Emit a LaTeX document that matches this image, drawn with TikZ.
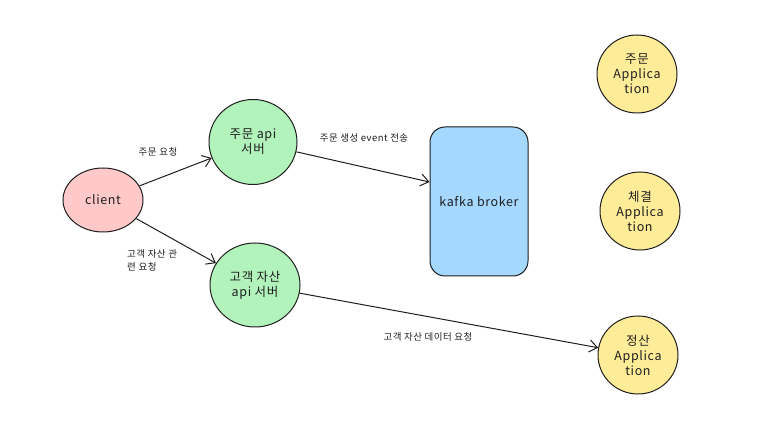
\documentclass[tikz,border=0pt]{standalone}
\usepackage{fontspec}
\setmainfont{Noto Sans CJK KR}[LetterSpace=5]
\usepackage{tikz}
\usetikzlibrary{positioning,shapes.geometric,arrows.meta}
\definecolor{clientpink}{HTML}{FFC9C9}
\definecolor{apigreen}{HTML}{B2F2BB}
\definecolor{kafkablue}{HTML}{A5D8FF}
\definecolor{appyellow}{HTML}{FFEC99}
\definecolor{edgegray}{HTML}{1E1E1E}

\begin{document}
\begin{tikzpicture}[x=1pt,y=1pt]
\tikzstyle{every node}+=[inner sep=0pt, font=\fontsize{12.5}{15}\selectfont, align=center, text=edgegray]
\tikzstyle{blob}=[ellipse, draw=edgegray, line width=1pt]
\tikzstyle{app}=[blob, fill=appyellow, minimum width=80pt, minimum height=78pt]
\tikzstyle{flow}=[draw=edgegray, line width=1pt, -{Straight Barb[length=8pt,width=12pt]}]
\tikzstyle{tag}=[font=\fontsize{9.5}{13}\selectfont, text=edgegray]
\useasboundingbox (0,0) rectangle (758,447);
\node [blob, fill=clientpink, minimum width=80pt, minimum height=64pt] (client) at (103,247) {client};
\node [blob, fill=apigreen, minimum width=88pt, minimum height=85pt] (orderapi) at (253,305) {주문 api\\서버};
\node [blob, fill=apigreen, minimum width=90pt, minimum height=84pt] (assetapi) at (255,162) {고객 자산\\api 서버};
\node [draw=edgegray, line width=1pt, rounded corners=15pt, fill=kafkablue, minimum width=98pt, minimum height=149pt] (kafka) at (479,245.5) {kafka broker};
\node [app] (orderapp) at (637,373) {주문\\Applica\\tion};
\node [app] (tradeapp) at (640,236) {체결\\Applica\\tion};
\node [app] (settleapp) at (638,92) {정산\\Applica\\tion};
\draw [flow] (client) -- (orderapi);
\draw (158,295) node [tag] {주문 요청};
\draw [flow] (client) -- (assetapi);
\draw (127,187) node [tag, anchor=west, align=left] {고객 자산 관\\련 요청};
\draw [flow] (orderapi) -- (kafka.west |- 0,265);
\draw (364,309) node [tag] {주문 생성 event 전송};
\draw [flow] (assetapi) -- (settleapp);
\draw (428,110) node [tag] {고객 자산 데이터 요청};
\end{tikzpicture}
\end{document}
